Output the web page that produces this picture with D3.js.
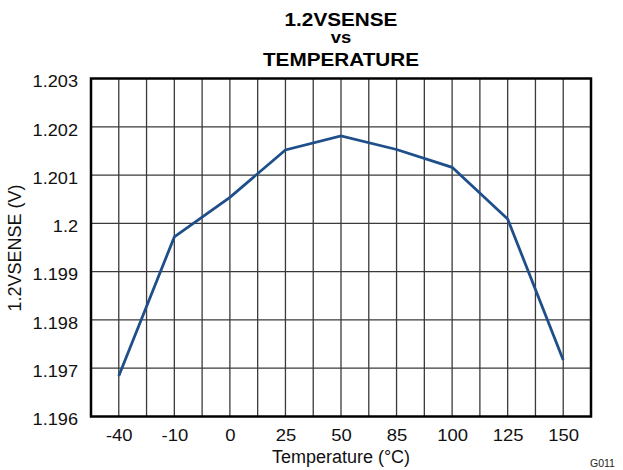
<!DOCTYPE html>
<html><head><meta charset="utf-8">
<script src="https://cdn.jsdelivr.net/npm/d3@7"></script>
<style>
html,body{margin:0;padding:0;background:#fff;}
svg{display:block;font-family:"Liberation Sans",Arial,sans-serif;}
.sx{transform-box:fill-box;transform-origin:center;transform:scaleX(1.12);}
</style>
</head><body>
<svg id="c" width="623" height="470"></svg>
<script>
const categories = ["-40","-10","0","25","50","85","100","125","150"];
const values = [1.19684,1.19972,1.20054,1.20152,1.20181,1.20153,1.20116,1.20009,1.19717];
const yTicks = [1.196,1.197,1.198,1.199,1.2,1.201,1.202,1.203];
const titleLines = ["1.2VSENSE","vs","TEMPERATURE"];
const xTitle = "Temperature (°C)";
const yTitle = "1.2VSENSE (V)";
const note = "G011";

const svg = d3.select("#c");
const L = 91, R = 591, T = 78.5, B = 416.5;
const x = d3.scalePoint().domain(categories).range([L, R]).padding(0.5);
const y = d3.scaleLinear().domain([1.196, 1.203]).range([B, T]);

// vertical gridlines at half steps
const step = x.step();
const vlines = d3.range(1, categories.length * 2).map(i => L + i * step / 2);
svg.append("g").selectAll("line").data(vlines).join("line")
  .attr("x1", d => d).attr("x2", d => d).attr("y1", T).attr("y2", B)
  .attr("stroke", "#3a3a3a").attr("stroke-width", 1.3);
svg.append("g").selectAll("line").data(yTicks.slice(1, -1)).join("line")
  .attr("x1", L).attr("x2", R).attr("y1", d => y(d)).attr("y2", d => y(d))
  .attr("stroke", "#3a3a3a").attr("stroke-width", 1.3);

// line
svg.append("path").datum(values)
  .attr("d", d3.line().x((d, i) => x(categories[i])).y(d => y(d)))
  .attr("fill", "none").attr("stroke", "#1f4f8a").attr("stroke-width", 2.8)
  .attr("stroke-linejoin", "miter");

// frame
svg.append("rect").attr("x", L).attr("y", T).attr("width", R - L).attr("height", B - T)
  .attr("fill", "none").attr("stroke", "#000").attr("stroke-width", 2.5);

// axes
const xAxis = svg.append("g").attr("transform", `translate(0,${B})`)
  .call(d3.axisBottom(x).tickSize(0).tickPadding(0));
xAxis.select(".domain").remove();
xAxis.selectAll("text").attr("y", 24.5).attr("dy", null)
  .attr("font-size", 16.5).attr("fill", "#111").attr("font-family", null).attr("class", "sx");

const yAxis = svg.append("g").attr("transform", `translate(${L},0)`)
  .call(d3.axisLeft(y).tickValues(yTicks).tickFormat(d => String(+d.toFixed(3))).tickSize(0).tickPadding(0));
yAxis.select(".domain").remove();
yAxis.selectAll("text").attr("x", -13).attr("dy", "0.5em")
  .attr("font-size", 16.5).attr("fill", "#111").attr("font-family", null)
  .attr("transform", "translate(-13,0) scale(1.1,1) translate(13,0)");

// titles
const tb = [26, 43.3, 66];
svg.append("g").selectAll("text").data(titleLines).join("text")
  .attr("x", (L + R) / 2).attr("y", (d, i) => tb[i])
  .attr("text-anchor", "middle").attr("font-weight", "bold")
  .attr("font-size", (d, i) => i === 1 ? 16.5 : 18.5).attr("fill", "#000")
  .attr("class", "sx").text(d => d);

svg.append("text").attr("x", (L + R) / 2).attr("y", 463)
  .attr("text-anchor", "middle").attr("font-size", 18).attr("fill", "#111").text(xTitle);

svg.append("text").attr("transform", "translate(21,248) rotate(-90)")
  .attr("text-anchor", "middle").attr("font-size", 18).attr("fill", "#111").text(yTitle);

svg.append("text").attr("x", 590).attr("y", 467).attr("font-size", 10.5).attr("fill", "#222").text(note);
</script>
</body></html>
